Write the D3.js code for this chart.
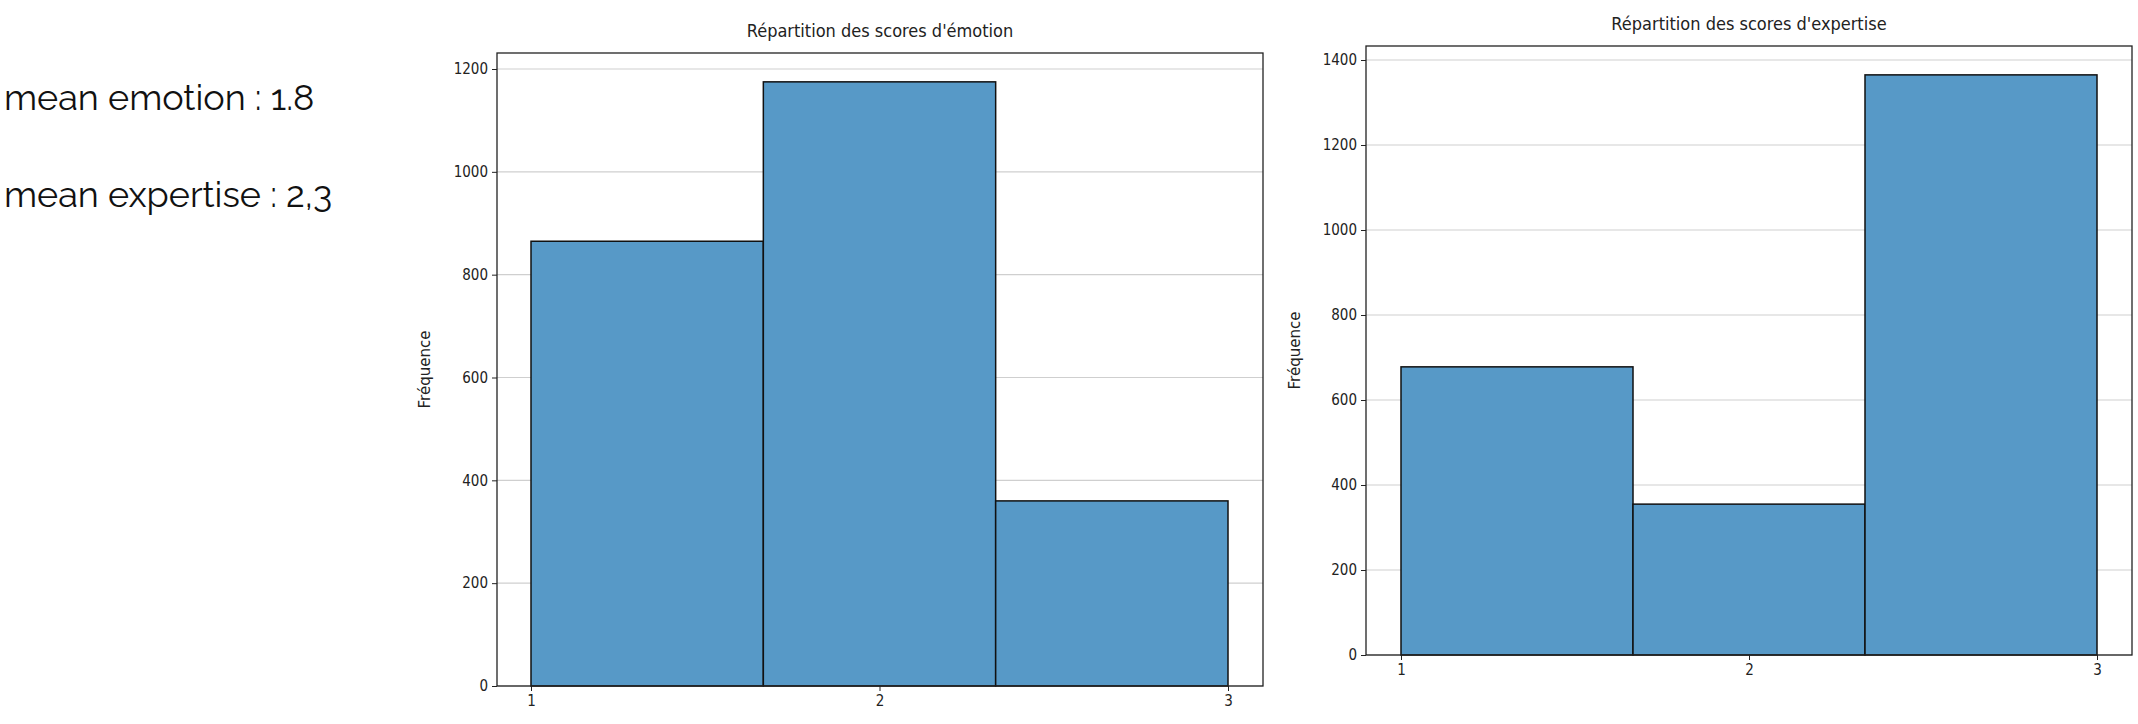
<!DOCTYPE html>
<html>
<head>
<meta charset="utf-8">
<script src="https://cdn.jsdelivr.net/npm/d3@7"></script>
<style>
  body { margin: 0; background: #fff; }
  svg text { font-family: "DejaVu Sans Condensed", "DejaVu Sans", sans-serif; }
</style>
</head>
<body>
<svg id="chart" width="2138" height="724"></svg>
<script>
// score bins
const scores = [1, 2, 3];
const emotionCounts = [865, 1175, 360];
const expertiseCounts = [678, 355, 1365];
const emotionTicks = [0, 200, 400, 600, 800, 1000, 1200];
const expertiseTicks = [0, 200, 400, 600, 800, 1000, 1200, 1400];
const meanLines = ["mean emotion : 1.8", "mean expertise : 2,3"];

const svg = d3.select('#chart');

svg.selectAll('text.mean')
    .data(meanLines)
    .join('text')
    .attr('class', 'mean')
    .attr('x', 4)
    .attr('y', (d, i) => 110 + i * 97)
    .style('font-family', 'Raleway, Lato, sans-serif')
    .style('font-size', '36px')
    .attr('fill', '#111')
    .text(d => d);

function hist(cfg) {
    const { left, right, top, bottom, x1, x3, yMax, yMaxPx, counts, ticks, title, labelX } = cfg;
    const x = d3.scaleLinear().domain([1, 3]).range([x1, x3]);
    const y = d3.scaleLinear().domain([0, yMax]).range([bottom, yMaxPx]);
    const g = svg.append('g');
    const w = (3 - 1) / 3;

    // grid
    g.selectAll('line.grid')
        .data(ticks)
        .join('line')
        .attr('x1', left).attr('x2', right)
        .attr('y1', d => y(d)).attr('y2', d => y(d))
        .attr('stroke', '#cfcfcf').attr('stroke-width', 1.2);

    g.selectAll('rect.bar')
        .data(counts)
        .join('rect')
        .attr('x', (d, i) => x(1 + i * w))
        .attr('width', x(1 + w) - x(1))
        .attr('y', d => y(d))
        .attr('height', d => bottom - y(d))
        .attr('fill', '#5799c7')
        .attr('stroke', '#111')
        .attr('stroke-width', 1.5);

    g.append('rect')
        .attr('x', left).attr('y', top)
        .attr('width', right - left).attr('height', bottom - top)
        .attr('fill', 'none').attr('stroke', '#222').attr('stroke-width', 1.3);

    const ya = g.append('g').attr('transform', `translate(${left},0)`)
        .call(d3.axisLeft(y).tickValues(ticks).tickSize(5).tickPadding(4).tickFormat(d3.format('d')));
    const xa = g.append('g').attr('transform', `translate(0,${bottom})`)
        .call(d3.axisBottom(x).tickValues(scores).tickSize(5).tickPadding(4).tickFormat(d3.format('d')));
    [ya, xa].forEach(a => {
        a.select('.domain').remove();
        a.selectAll('text').style('font-size', '15px').attr('fill', '#222');
        a.selectAll('line').attr('stroke', '#222');
    });

    g.append('text')
        .attr('x', (left + right) / 2).attr('y', top - 16)
        .attr('text-anchor', 'middle')
        .style('font-size', '18px').attr('fill', '#222')
        .text(title);

    g.append('text')
        .attr('transform', `translate(${labelX},${(top + bottom) / 2}) rotate(-90)`)
        .attr('text-anchor', 'middle')
        .style('font-family', '"DejaVu Sans", sans-serif')
        .style('font-size', '15px').attr('fill', '#222')
        .text('Fréquence');
}

hist({ left: 497, right: 1263, top: 53, bottom: 686, x1: 531, x3: 1228,
    yMax: 1200, yMaxPx: 69, counts: emotionCounts, ticks: emotionTicks,
    title: "Répartition des scores d'émotion", labelX: 430 });

hist({ left: 1366, right: 2132, top: 46, bottom: 655, x1: 1401, x3: 2097,
    yMax: 1400, yMaxPx: 60, counts: expertiseCounts, ticks: expertiseTicks,
    title: "Répartition des scores d'expertise", labelX: 1300 });
</script>
</body>
</html>
